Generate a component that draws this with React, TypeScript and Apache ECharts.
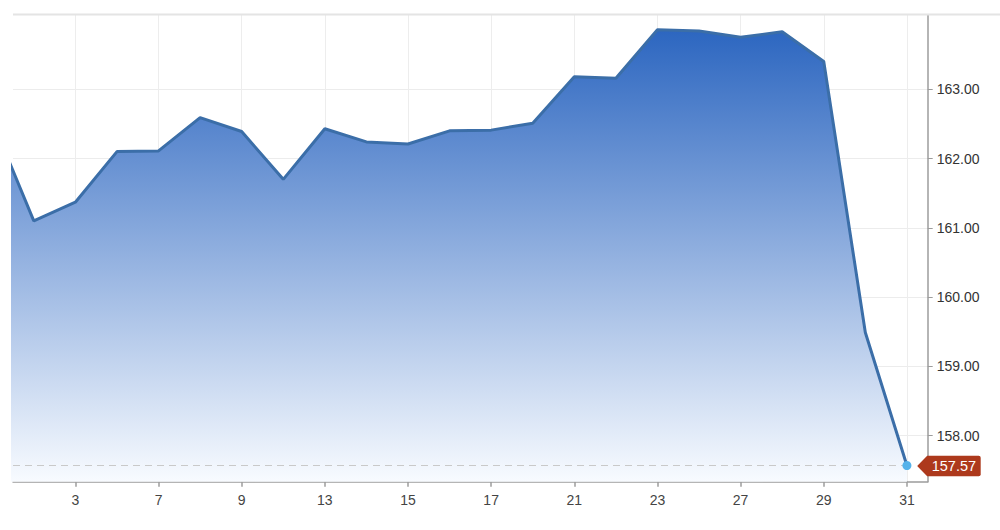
import React, { useEffect, useRef } from "react";
import * as echarts from "echarts";

// Trading days (first entry is the previous session, partly clipped on the left)
const dates = ["29", "2", "3", "6", "7", "8", "9", "10", "13", "14", "15", "16", "17", "20", "21", "22", "23", "24", "27", "28", "29", "30", "31"];
const values = [162.55, 161.1, 161.37, 162.1, 162.11, 162.59, 162.39, 161.7, 162.43, 162.24, 162.21, 162.4, 162.41, 162.51, 163.18, 163.16, 163.86, 163.84, 163.75, 163.83, 163.4, 159.49, 157.57];
const yTicks = [158, 159, 160, 161, 162, 163];
const yMin = 157.336;
const yMax = 164.076;
const xMin = -0.5;
const xMax = 21.5;

export default function App() {
  const ref = useRef<HTMLDivElement>(null);

  useEffect(() => {
    if (!ref.current) return;
    const chart = echarts.init(ref.current, undefined, { renderer: "svg" });

    const seriesData = values.map((v, i) => [i - 1, v]);
    const xTicks = dates.map((_, i) => i - 1).filter((x) => x >= 0 && x % 2 === 1);
    const lastX = values.length - 2;
    const last = values[values.length - 1];
    const font = "'Liberation Sans', Arial, Helvetica, sans-serif";

    chart.setOption({
      animation: false,
      backgroundColor: "#ffffff",
      grid: { left: 13, right: 72.3, top: 14.7, bottom: 48.3, containLabel: false },
      graphic: [
        {
          type: "line",
          shape: { x1: 13, y1: 14.5, x2: 1000, y2: 14.5 },
          style: { stroke: "#e4e4e4", lineWidth: 2 },
          z: 1,
        },
      ],
      xAxis: {
        type: "value",
        min: xMin,
        max: xMax,
        axisLine: { show: true, onZero: false, lineStyle: { color: "#9c9c9c", width: 1.5 } },
        axisTick: { show: true, customValues: xTicks, length: 5, lineStyle: { color: "#9c9c9c", width: 1.5 } },
        axisLabel: {
          customValues: xTicks,
          formatter: (v: number) => dates[Math.round(v) + 1],
          color: "#444",
          fontSize: 14,
          fontFamily: font,
          margin: 11,
        },
        splitLine: { show: true, lineStyle: { color: "#ededed", width: 1 } },
      },
      yAxis: {
        type: "value",
        position: "right",
        min: yMin,
        max: yMax,
        axisLine: { show: true, onZero: false, lineStyle: { color: "#9c9c9c", width: 1.5 } },
        axisTick: { show: true, customValues: yTicks, length: 5, lineStyle: { color: "#9c9c9c", width: 1 } },
        axisLabel: {
          customValues: yTicks,
          formatter: (v: number) => v.toFixed(2),
          color: "#333",
          fontSize: 14,
          fontFamily: font,
          margin: 9,
        },
        splitLine: { show: true, lineStyle: { color: "#ececec", width: 1 } },
      },
      series: [
        {
          type: "line",
          data: seriesData,
          symbol: "none",
          clip: true,
          lineStyle: { color: "#3b6ea8", width: 3 },
          areaStyle: {
            color: new echarts.graphic.LinearGradient(0, 0, 0, 1, [
              { offset: 0, color: "#2c66c0" },
              { offset: 1, color: "#f8fbff" },
            ]),
            opacity: 1,
          },
          markLine: {
            silent: true,
            symbol: "none",
            animation: false,
            label: { show: false },
            lineStyle: { type: [7, 5], color: "#c9c9c9", width: 1 },
            data: [[{ coord: [xMin, last] }, { coord: [lastX, last] }]],
          },
          markPoint: {
            silent: true,
            animation: false,
            data: [
              {
                coord: [lastX, last],
                value: last,
                symbol: "path://M0,10.25 L10,0 L61.5,0 Q63.5,0 63.5,2 L63.5,18.5 Q63.5,20.5 61.5,20.5 L10,20.5 Z",
                symbolSize: [63.5, 20.5],
                symbolOffset: [42, 0.5],
                itemStyle: { color: "#ad391c" },
                label: {
                  show: true,
                  position: "inside",
                  offset: [5, 0],
                  formatter: () => last.toFixed(2),
                  color: "#ffffff",
                  fontSize: 14.5,
                  fontFamily: font,
                },
              },
              {
                coord: [lastX, last],
                value: last,
                symbol: "circle",
                symbolSize: 9,
                itemStyle: { color: "#55b2ea", borderColor: "#55b2ea", borderWidth: 0 },
                label: { show: false },
              },
            ],
          },
        },
      ],
    });

    return () => {
      chart.dispose();
    };
  }, []);

  return (
    <div
      ref={ref}
      style={{ position: "absolute", left: 0, top: 0, width: 1000, height: 530 }}
    />
  );
}
